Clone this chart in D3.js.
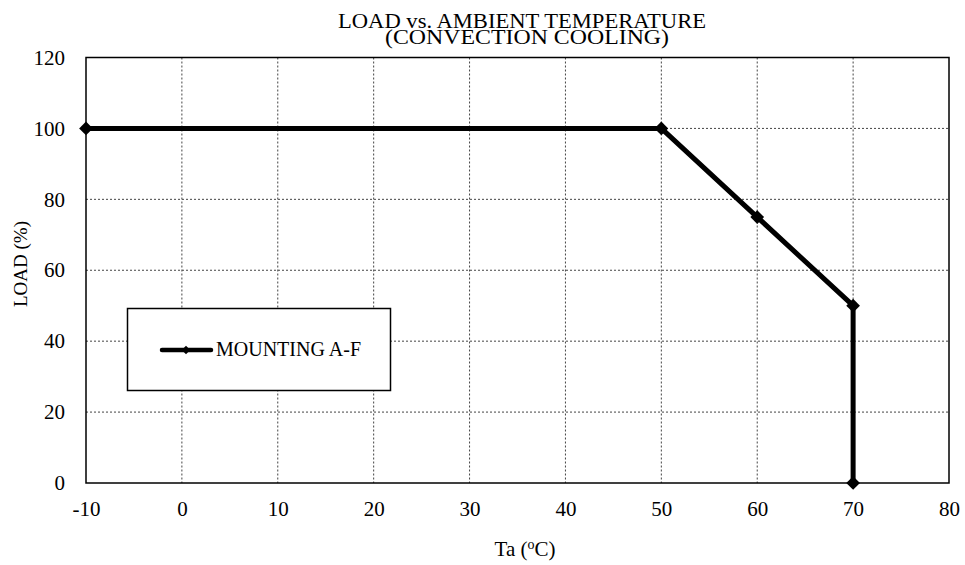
<!DOCTYPE html>
<html><head><meta charset="utf-8">
<script src="https://cdn.jsdelivr.net/npm/d3@7"></script>
<style>body{margin:0;background:#fff}svg{display:block}text{font-family:"Liberation Serif","Times New Roman",serif;fill:#000}</style>
</head><body><svg id="c" width="965" height="565"></svg>
<script>
const temps = [-10, 50, 60, 70, 70];
const loads = [100, 100, 75, 50, 0];
const xTicks = [-10, 0, 10, 20, 30, 40, 50, 60, 70, 80];
const yTicks = [0, 20, 40, 60, 80, 100, 120];
const seriesName = "MOUNTING A-F";

const svg = d3.select("#c");
const m = {l: 86, r: 949, t: 57.5, b: 483};
const x = d3.scaleLinear().domain([-10, 80]).range([m.l, m.r]);
const y = d3.scaleLinear().domain([0, 120]).range([m.b, m.t]);

// grid
svg.append("g").selectAll("line").data(xTicks.slice(1, -1)).join("line")
  .attr("x1", d => x(d)).attr("x2", d => x(d)).attr("y1", m.t).attr("y2", m.b)
  .attr("stroke", "#444").attr("stroke-width", 1).attr("stroke-dasharray", "2,2");
svg.append("g").selectAll("line").data(yTicks.slice(1, -1)).join("line")
  .attr("y1", d => y(d)).attr("y2", d => y(d)).attr("x1", m.l).attr("x2", m.r)
  .attr("stroke", "#444").attr("stroke-width", 1).attr("stroke-dasharray", "2,2");

// border
svg.append("rect").attr("x", m.l).attr("y", m.t).attr("width", m.r - m.l).attr("height", m.b - m.t)
  .attr("fill", "none").attr("stroke", "#000").attr("stroke-width", 1.5);

// axes labels via d3 axis
const xa = svg.append("g").attr("transform", `translate(0,${m.b})`)
  .call(d3.axisBottom(x).tickValues(xTicks).tickSize(0).tickPadding(18).tickFormat(d => String(d)));
xa.select(".domain").remove();
xa.attr("font-size", null).attr("font-family", null);
xa.selectAll("text").attr("font-size", 21).attr("font-family", "Liberation Serif");
const ya = svg.append("g").attr("transform", `translate(${m.l},0)`)
  .call(d3.axisLeft(y).tickValues(yTicks).tickSize(0).tickPadding(21).tickFormat(d => String(d)));
ya.select(".domain").remove();
ya.attr("font-size", null).attr("font-family", null);
ya.selectAll("text").attr("font-size", 21).attr("font-family", "Liberation Serif");

// legend
svg.append("rect").attr("x", 127.5).attr("y", 308.5).attr("width", 263).attr("height", 82)
  .attr("fill", "#fff").attr("stroke", "#000").attr("stroke-width", 1.5);
svg.append("line").attr("x1", 162).attr("x2", 211).attr("y1", 350).attr("y2", 350)
  .attr("stroke", "#000").attr("stroke-width", 4.5).attr("stroke-linecap", "round");
svg.append("path").attr("d", d3.symbol(d3.symbolDiamond2, 45)())
  .attr("transform", "translate(186,350)").attr("fill", "#000");
svg.append("text").attr("x", 216).attr("y", 356).attr("font-size", 20).text(seriesName);

// line
const pts = temps.map((t, i) => [t, loads[i]]);
svg.append("path").datum(pts)
  .attr("d", d3.line().x(d => x(d[0])).y(d => y(d[1])))
  .attr("fill", "none").attr("stroke", "#000").attr("stroke-width", 5).attr("stroke-linejoin", "round");
svg.append("g").selectAll("path").data(pts).join("path")
  .attr("d", d3.symbol(d3.symbolDiamond2, 120)())
  .attr("transform", d => `translate(${x(d[0])},${y(d[1])})`).attr("fill", "#000");

// title
svg.append("text").attr("x", 522).attr("y", 28).attr("text-anchor", "middle").attr("font-size", 21)
  .attr("textLength", 368).attr("lengthAdjust", "spacingAndGlyphs")
  .text("LOAD vs. AMBIENT TEMPERATURE");
svg.append("text").attr("x", 527).attr("y", 44).attr("text-anchor", "middle").attr("font-size", 21)
  .attr("textLength", 284).attr("lengthAdjust", "spacingAndGlyphs")
  .text("(CONVECTION COOLING)");

// axis titles
svg.append("text").attr("transform", "translate(27,264) rotate(-90)").attr("text-anchor", "middle")
  .attr("font-size", 19).text("LOAD (%)");
const xt = svg.append("text").attr("x", 525).attr("y", 556).attr("text-anchor", "middle").attr("font-size", 21);
xt.append("tspan").text("Ta (");
xt.append("tspan").attr("font-size", 14).attr("dy", -7).text("o");
xt.append("tspan").attr("dy", 7).text("C)");
</script></body></html>
